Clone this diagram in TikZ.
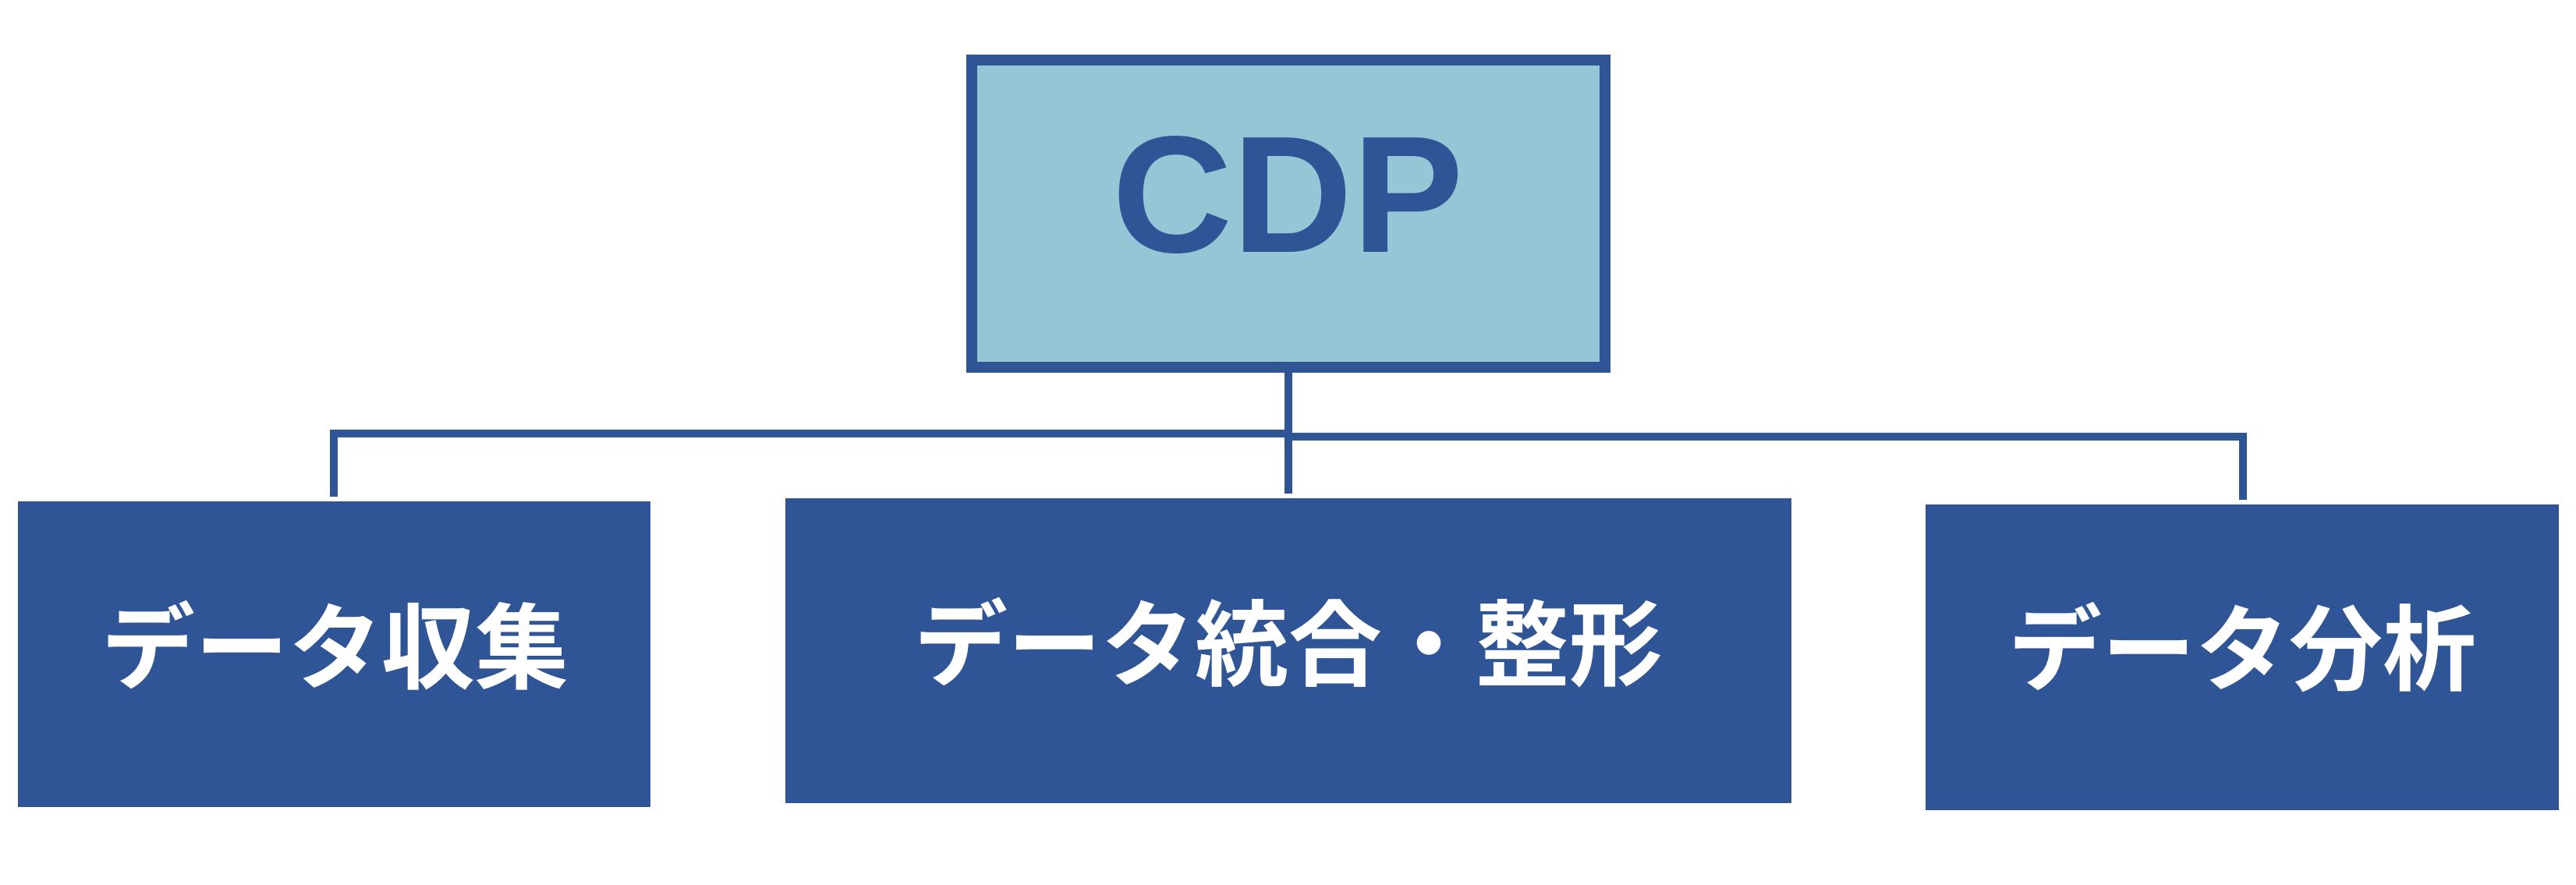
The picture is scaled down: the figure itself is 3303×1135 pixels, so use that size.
\documentclass[tikz,border=0pt]{standalone}
\usepackage{fontspec}
\setmainfont{Liberation Sans}
\newfontfamily\cjk{Noto Sans CJK JP}[BoldFont={* Bold}]
\definecolor{dblue}{HTML}{2F5597}
\definecolor{lblue}{HTML}{94C6D6}
\begin{document}
\begin{tikzpicture}[x=0.3pt,y=-0.3pt,
  box/.style={fill=dblue,draw=none,text=white,font=\cjk\bfseries\fontsize{36}{40}\selectfont},
  conn/.style={draw=dblue,line width=3pt}]
\useasboundingbox[fill=white] (0,0) rectangle (3303,1135);
\fill[dblue] (1239,70) rectangle (2065,478);
\fill[lblue] (1253,84) rectangle (2051,464);
\node[text=dblue,font=\bfseries\fontsize{64}{70}\selectfont] (cdp) at (1652,250) {CDP};
\coordinate (cb) at (1652,478);
\fill[dblue] (23,643) rectangle (834,1035);
\fill[dblue] (1007,639) rectangle (2297,1030);
\fill[dblue] (2469,647) rectangle (3281,1039);
\node[box] (a) at (430,828) {データ収集};
\node[box] (b) at (1652,824) {データ統合・整形};
\node[box] (c) at (2875,830) {データ分析};
\coordinate (ja) at (428,556);
\coordinate (jb) at (2876,560);
\coordinate (jm) at (1652,556);
\coordinate (jm2) at (1652,560);
\coordinate (ea) at (428,637);
\coordinate (eb) at (1652,633);
\coordinate (ec) at (2876,641);
\draw[conn] (cb) -- (eb);
\draw[conn] (ea) -- (ja) -- (jm);
\draw[conn] (jm2) -- (jb) -- (ec);
\end{tikzpicture}
\end{document}
